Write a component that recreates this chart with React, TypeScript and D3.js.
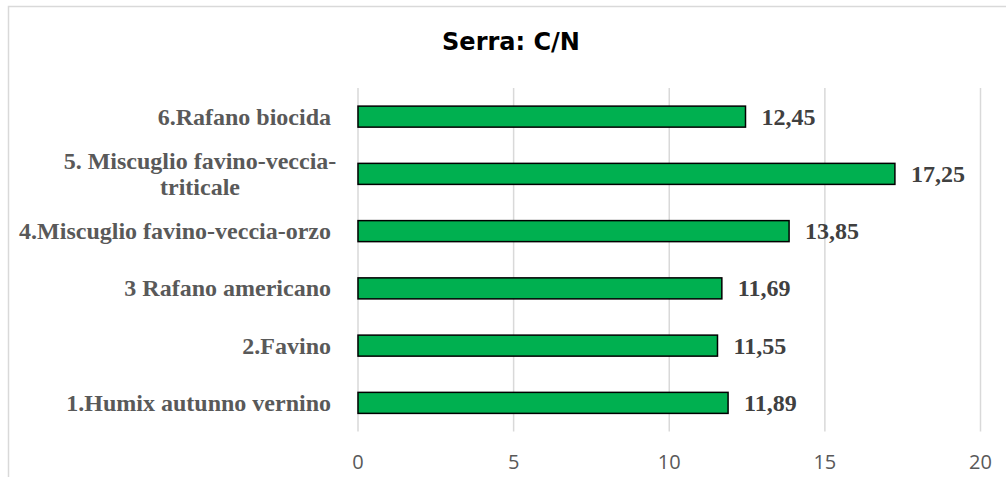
import React, { useEffect, useRef } from 'react';
import * as d3 from 'd3';

// data (top to bottom)
const categories = [
  ['6.Rafano biocida'],
  ['5. Miscuglio favino-veccia-', 'triticale'],
  ['4.Miscuglio favino-veccia-orzo'],
  ['3 Rafano americano'],
  ['2.Favino'],
  ['1.Humix autunno vernino'],
];
const values = [12.45, 17.25, 13.85, 11.69, 11.55, 11.89];
const valueLabels = ['12,45', '17,25', '13,85', '11,69', '11,55', '11,89'];
const xTicks = [0, 5, 10, 15, 20];
const title = 'Serra: C/N';

const W = 1006;
const H = 477;

export default function App() {
  const ref = useRef<SVGSVGElement>(null);

  useEffect(() => {
    const svg = d3.select(ref.current);
    svg.selectAll('*').remove();

    const x = d3.scaleLinear().domain([0, 20]).range([358, 980.5]);
    const y = d3
      .scaleBand<number>()
      .domain(d3.range(values.length))
      .range([88, 431.5])
      .paddingInner(0.633)
      .paddingOuter(0.3165);

    // chart border
    svg.append('rect')
      .attr('x', 8.5)
      .attr('y', 6.5)
      .attr('width', 1020)
      .attr('height', 500)
      .attr('fill', '#fff')
      .attr('stroke', '#d9d9d9')
      .attr('stroke-width', 1.5);

    svg.append('text')
      .attr('x', 511)
      .attr('y', 50)
      .attr('text-anchor', 'middle')
      .attr('font-family', '"DejaVu Sans", Verdana, sans-serif')
      .attr('font-weight', 'bold')
      .attr('font-size', 24)
      .attr('fill', '#000')
      .text(title);

    // gridlines
    svg.append('g')
      .selectAll('line')
      .data(xTicks)
      .join('line')
      .attr('x1', d => x(d))
      .attr('x2', d => x(d))
      .attr('y1', 88)
      .attr('y2', 431.5)
      .attr('stroke', '#d9d9d9')
      .attr('stroke-width', 1.5);

    // tick labels
    svg.append('g')
      .selectAll('text')
      .data(xTicks)
      .join('text')
      .attr('x', d => x(d))
      .attr('y', 469)
      .attr('text-anchor', 'middle')
      .attr('font-family', '"Open Sans", sans-serif')
      .attr('font-size', 20)
      .attr('fill', '#595959')
      .text(d => d);

    // bars
    svg.append('g')
      .selectAll('rect')
      .data(values)
      .join('rect')
      .attr('x', x(0))
      .attr('y', (d, i) => y(i)!)
      .attr('width', d => x(d) - x(0))
      .attr('height', y.bandwidth())
      .attr('fill', '#00b050')
      .attr('stroke', '#000')
      .attr('stroke-width', 1.5);

    // value labels
    svg.append('g')
      .selectAll('text')
      .data(values)
      .join('text')
      .attr('x', d => x(d) + 16)
      .attr('y', (d, i) => y(i)! + y.bandwidth() / 2)
      .attr('dy', '0.33em')
      .attr('font-family', '"Liberation Serif", "Times New Roman", serif')
      .attr('font-weight', 'bold')
      .attr('font-size', 24)
      .attr('fill', '#404040')
      .text((d, i) => valueLabels[i]);

    // category labels
    const cat = svg.append('g')
      .selectAll('text')
      .data(categories)
      .join('text')
      .attr('font-family', '"Liberation Serif", "Times New Roman", serif')
      .attr('font-weight', 'bold')
      .attr('font-size', 24)
      .attr('fill', '#595959')
      .attr('text-anchor', d => (d.length > 1 ? 'middle' : 'end'))
      .attr('x', d => (d.length > 1 ? 200 : 331))
      .attr('y', (d, i) => y(i)! + y.bandwidth() / 2);

    cat.each(function (lines) {
      const t = d3.select(this);
      const cy = +t.attr('y');
      const lh = 26.5;
      const top = cy - ((lines.length - 1) * lh) / 2;
      lines.forEach((ln, k) => {
        t.append('tspan')
          .attr('x', t.attr('x'))
          .attr('y', top + k * lh)
          .attr('dy', '0.33em')
          .text(ln);
      });
    });
  }, []);

  return (
    <svg
      ref={ref}
      width={W}
      height={H}
      style={{ position: 'absolute', left: 0, top: 0, background: '#fff' }}
    />
  );
}
